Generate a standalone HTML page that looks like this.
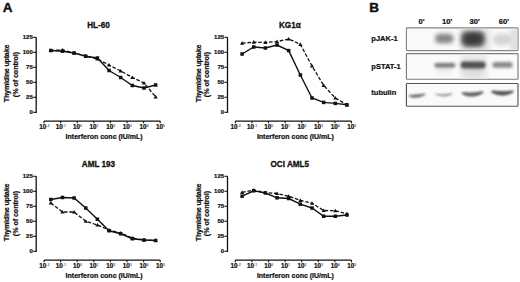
<!DOCTYPE html>
<html><head><meta charset="utf-8"><style>
html,body{margin:0;padding:0;background:#fff;width:520px;height:282px;overflow:hidden}
svg{display:block}
text{font-family:"Liberation Sans",sans-serif;font-weight:bold;fill:#111;stroke:#111;stroke-width:0.22px}
</style></head><body>
<svg width="520" height="282" viewBox="0 0 520 282">
<rect width="520" height="282" fill="#fff"/>
<path d="M36.20 37.30 V112.90" stroke="#111" stroke-width="1.3" fill="none"/>
<path d="M33.20 112.30 H36.20" stroke="#111" stroke-width="1.1"/>
<text x="32.80" y="114.00" font-size="6" text-anchor="end">0</text>
<path d="M33.20 97.30 H36.20" stroke="#111" stroke-width="1.1"/>
<text x="32.80" y="99.00" font-size="6" text-anchor="end">25</text>
<path d="M33.20 82.30 H36.20" stroke="#111" stroke-width="1.1"/>
<text x="32.80" y="84.00" font-size="6" text-anchor="end">50</text>
<path d="M33.20 67.30 H36.20" stroke="#111" stroke-width="1.1"/>
<text x="32.80" y="69.00" font-size="6" text-anchor="end">75</text>
<path d="M33.20 52.30 H36.20" stroke="#111" stroke-width="1.1"/>
<text x="32.80" y="54.00" font-size="6" text-anchor="end">100</text>
<path d="M33.20 37.30 H36.20" stroke="#111" stroke-width="1.1"/>
<text x="32.80" y="39.00" font-size="6" text-anchor="end">125</text>
<path d="M44.00 121.10 H160.20" stroke="#111" stroke-width="1.3" fill="none"/>
<path d="M44.00 121.10 V123.30" stroke="#111" stroke-width="1.1"/>
<text x="44.30" y="129.30" font-size="6.3" text-anchor="middle">10<tspan font-size="3.6" dy="-2.3" style="stroke:none;fill:#666">-2</tspan></text>
<path d="M60.60 121.10 V123.30" stroke="#111" stroke-width="1.1"/>
<text x="60.90" y="129.30" font-size="6.3" text-anchor="middle">10<tspan font-size="3.6" dy="-2.3" style="stroke:none;fill:#666">-1</tspan></text>
<path d="M77.20 121.10 V123.30" stroke="#111" stroke-width="1.1"/>
<text x="77.50" y="129.30" font-size="6.3" text-anchor="middle">10<tspan font-size="3.6" dy="-2.3" style="stroke:none;fill:#666">0</tspan></text>
<path d="M93.80 121.10 V123.30" stroke="#111" stroke-width="1.1"/>
<text x="94.10" y="129.30" font-size="6.3" text-anchor="middle">10<tspan font-size="3.6" dy="-2.3" style="stroke:none;fill:#666">1</tspan></text>
<path d="M110.40 121.10 V123.30" stroke="#111" stroke-width="1.1"/>
<text x="110.70" y="129.30" font-size="6.3" text-anchor="middle">10<tspan font-size="3.6" dy="-2.3" style="stroke:none;fill:#666">2</tspan></text>
<path d="M127.00 121.10 V123.30" stroke="#111" stroke-width="1.1"/>
<text x="127.30" y="129.30" font-size="6.3" text-anchor="middle">10<tspan font-size="3.6" dy="-2.3" style="stroke:none;fill:#666">3</tspan></text>
<path d="M143.60 121.10 V123.30" stroke="#111" stroke-width="1.1"/>
<text x="143.90" y="129.30" font-size="6.3" text-anchor="middle">10<tspan font-size="3.6" dy="-2.3" style="stroke:none;fill:#666">4</tspan></text>
<path d="M160.20 121.10 V123.30" stroke="#111" stroke-width="1.1"/>
<text x="160.50" y="129.30" font-size="6.3" text-anchor="middle">10<tspan font-size="3.6" dy="-2.3" style="stroke:none;fill:#666">5</tspan></text>
<text x="104.10" y="139.20" font-size="7" text-anchor="middle">Interferon conc (IU/mL)</text>
<text transform="translate(9.30,73.40) rotate(-90)" x="0" y="0" font-size="7.2" text-anchor="middle" textLength="57.6" lengthAdjust="spacing">Thymidine uptake</text>
<text transform="translate(17.50,74.50) rotate(-90)" x="0" y="0" font-size="7.2" text-anchor="middle" textLength="45.4" lengthAdjust="spacing">(% of control)</text>
<text x="98.50" y="28.10" font-size="8.15" text-anchor="middle" style="stroke-width:0.3px">HL-60</text>
<path d="M50.80 50.50 L62.45 50.00 L74.10 53.00 L85.75 56.00 L97.40 59.00 L109.05 65.00 L120.70 71.00 L132.35 77.50 L144.00 83.00 L155.65 96.80" stroke="#111" stroke-width="1.3" fill="none" stroke-dasharray="3.6 1.8"/>
<path d="M50.80 50.50 L62.45 51.20 L74.10 53.00 L85.75 56.20 L97.40 58.00 L109.05 70.50 L120.70 77.50 L132.35 85.50 L144.00 88.00 L155.65 85.00" stroke="#111" stroke-width="1.4" fill="none"/>
<path d="M48.70 52.10 L52.90 52.10 L50.80 48.40Z" fill="#111"/>
<path d="M60.35 51.60 L64.55 51.60 L62.45 47.90Z" fill="#111"/>
<path d="M72.00 54.60 L76.20 54.60 L74.10 50.90Z" fill="#111"/>
<path d="M83.65 57.60 L87.85 57.60 L85.75 53.90Z" fill="#111"/>
<path d="M95.30 60.60 L99.50 60.60 L97.40 56.90Z" fill="#111"/>
<path d="M106.95 66.60 L111.15 66.60 L109.05 62.90Z" fill="#111"/>
<path d="M118.60 72.60 L122.80 72.60 L120.70 68.90Z" fill="#111"/>
<path d="M130.25 79.10 L134.45 79.10 L132.35 75.40Z" fill="#111"/>
<path d="M141.90 84.60 L146.10 84.60 L144.00 80.90Z" fill="#111"/>
<path d="M153.55 98.40 L157.75 98.40 L155.65 94.70Z" fill="#111"/>
<rect x="49.05" y="48.75" width="3.5" height="3.5" fill="#111"/>
<rect x="60.70" y="49.45" width="3.5" height="3.5" fill="#111"/>
<rect x="72.35" y="51.25" width="3.5" height="3.5" fill="#111"/>
<rect x="84.00" y="54.45" width="3.5" height="3.5" fill="#111"/>
<rect x="95.65" y="56.25" width="3.5" height="3.5" fill="#111"/>
<rect x="107.30" y="68.75" width="3.5" height="3.5" fill="#111"/>
<rect x="118.95" y="75.75" width="3.5" height="3.5" fill="#111"/>
<rect x="130.60" y="83.75" width="3.5" height="3.5" fill="#111"/>
<rect x="142.25" y="86.25" width="3.5" height="3.5" fill="#111"/>
<rect x="153.90" y="83.25" width="3.5" height="3.5" fill="#111"/>
<path d="M227.50 37.30 V112.90" stroke="#111" stroke-width="1.3" fill="none"/>
<path d="M224.50 112.30 H227.50" stroke="#111" stroke-width="1.1"/>
<text x="224.10" y="114.00" font-size="6" text-anchor="end">0</text>
<path d="M224.50 97.30 H227.50" stroke="#111" stroke-width="1.1"/>
<text x="224.10" y="99.00" font-size="6" text-anchor="end">25</text>
<path d="M224.50 82.30 H227.50" stroke="#111" stroke-width="1.1"/>
<text x="224.10" y="84.00" font-size="6" text-anchor="end">50</text>
<path d="M224.50 67.30 H227.50" stroke="#111" stroke-width="1.1"/>
<text x="224.10" y="69.00" font-size="6" text-anchor="end">75</text>
<path d="M224.50 52.30 H227.50" stroke="#111" stroke-width="1.1"/>
<text x="224.10" y="54.00" font-size="6" text-anchor="end">100</text>
<path d="M224.50 37.30 H227.50" stroke="#111" stroke-width="1.1"/>
<text x="224.10" y="39.00" font-size="6" text-anchor="end">125</text>
<path d="M235.30 121.10 H351.50" stroke="#111" stroke-width="1.3" fill="none"/>
<path d="M235.30 121.10 V123.30" stroke="#111" stroke-width="1.1"/>
<text x="235.60" y="129.30" font-size="6.3" text-anchor="middle">10<tspan font-size="3.6" dy="-2.3" style="stroke:none;fill:#666">-2</tspan></text>
<path d="M251.90 121.10 V123.30" stroke="#111" stroke-width="1.1"/>
<text x="252.20" y="129.30" font-size="6.3" text-anchor="middle">10<tspan font-size="3.6" dy="-2.3" style="stroke:none;fill:#666">-1</tspan></text>
<path d="M268.50 121.10 V123.30" stroke="#111" stroke-width="1.1"/>
<text x="268.80" y="129.30" font-size="6.3" text-anchor="middle">10<tspan font-size="3.6" dy="-2.3" style="stroke:none;fill:#666">0</tspan></text>
<path d="M285.10 121.10 V123.30" stroke="#111" stroke-width="1.1"/>
<text x="285.40" y="129.30" font-size="6.3" text-anchor="middle">10<tspan font-size="3.6" dy="-2.3" style="stroke:none;fill:#666">1</tspan></text>
<path d="M301.70 121.10 V123.30" stroke="#111" stroke-width="1.1"/>
<text x="302.00" y="129.30" font-size="6.3" text-anchor="middle">10<tspan font-size="3.6" dy="-2.3" style="stroke:none;fill:#666">2</tspan></text>
<path d="M318.30 121.10 V123.30" stroke="#111" stroke-width="1.1"/>
<text x="318.60" y="129.30" font-size="6.3" text-anchor="middle">10<tspan font-size="3.6" dy="-2.3" style="stroke:none;fill:#666">3</tspan></text>
<path d="M334.90 121.10 V123.30" stroke="#111" stroke-width="1.1"/>
<text x="335.20" y="129.30" font-size="6.3" text-anchor="middle">10<tspan font-size="3.6" dy="-2.3" style="stroke:none;fill:#666">4</tspan></text>
<path d="M351.50 121.10 V123.30" stroke="#111" stroke-width="1.1"/>
<text x="351.80" y="129.30" font-size="6.3" text-anchor="middle">10<tspan font-size="3.6" dy="-2.3" style="stroke:none;fill:#666">5</tspan></text>
<text x="295.40" y="139.20" font-size="7" text-anchor="middle">Interferon conc (IU/mL)</text>
<text transform="translate(200.60,73.40) rotate(-90)" x="0" y="0" font-size="7.2" text-anchor="middle" textLength="57.6" lengthAdjust="spacing">Thymidine uptake</text>
<text transform="translate(208.80,74.50) rotate(-90)" x="0" y="0" font-size="7.2" text-anchor="middle" textLength="45.4" lengthAdjust="spacing">(% of control)</text>
<text x="289.80" y="28.10" font-size="8.15" text-anchor="middle" style="stroke-width:0.3px">KG1&#945;</text>
<path d="M242.10 43.20 L253.75 42.20 L265.40 42.40 L277.05 41.60 L288.70 39.00 L300.35 44.40 L312.00 66.00 L323.65 85.40 L335.30 98.00 L346.95 104.80" stroke="#111" stroke-width="1.3" fill="none" stroke-dasharray="3.6 1.8"/>
<path d="M242.10 54.00 L253.75 47.00 L265.40 48.00 L277.05 45.00 L288.70 50.60 L300.35 75.00 L312.00 98.00 L323.65 102.40 L335.30 103.40 L346.95 104.80" stroke="#111" stroke-width="1.4" fill="none"/>
<path d="M240.00 44.80 L244.20 44.80 L242.10 41.10Z" fill="#111"/>
<path d="M251.65 43.80 L255.85 43.80 L253.75 40.10Z" fill="#111"/>
<path d="M263.30 44.00 L267.50 44.00 L265.40 40.30Z" fill="#111"/>
<path d="M274.95 43.20 L279.15 43.20 L277.05 39.50Z" fill="#111"/>
<path d="M286.60 40.60 L290.80 40.60 L288.70 36.90Z" fill="#111"/>
<path d="M298.25 46.00 L302.45 46.00 L300.35 42.30Z" fill="#111"/>
<path d="M309.90 67.60 L314.10 67.60 L312.00 63.90Z" fill="#111"/>
<path d="M321.55 87.00 L325.75 87.00 L323.65 83.30Z" fill="#111"/>
<path d="M333.20 99.60 L337.40 99.60 L335.30 95.90Z" fill="#111"/>
<path d="M344.85 106.40 L349.05 106.40 L346.95 102.70Z" fill="#111"/>
<rect x="240.35" y="52.25" width="3.5" height="3.5" fill="#111"/>
<rect x="252.00" y="45.25" width="3.5" height="3.5" fill="#111"/>
<rect x="263.65" y="46.25" width="3.5" height="3.5" fill="#111"/>
<rect x="275.30" y="43.25" width="3.5" height="3.5" fill="#111"/>
<rect x="286.95" y="48.85" width="3.5" height="3.5" fill="#111"/>
<rect x="298.60" y="73.25" width="3.5" height="3.5" fill="#111"/>
<rect x="310.25" y="96.25" width="3.5" height="3.5" fill="#111"/>
<rect x="321.90" y="100.65" width="3.5" height="3.5" fill="#111"/>
<rect x="333.55" y="101.65" width="3.5" height="3.5" fill="#111"/>
<rect x="345.20" y="103.05" width="3.5" height="3.5" fill="#111"/>
<path d="M36.20 176.30 V251.90" stroke="#111" stroke-width="1.3" fill="none"/>
<path d="M33.20 251.30 H36.20" stroke="#111" stroke-width="1.1"/>
<text x="32.80" y="253.00" font-size="6" text-anchor="end">0</text>
<path d="M33.20 236.30 H36.20" stroke="#111" stroke-width="1.1"/>
<text x="32.80" y="238.00" font-size="6" text-anchor="end">25</text>
<path d="M33.20 221.30 H36.20" stroke="#111" stroke-width="1.1"/>
<text x="32.80" y="223.00" font-size="6" text-anchor="end">50</text>
<path d="M33.20 206.30 H36.20" stroke="#111" stroke-width="1.1"/>
<text x="32.80" y="208.00" font-size="6" text-anchor="end">75</text>
<path d="M33.20 191.30 H36.20" stroke="#111" stroke-width="1.1"/>
<text x="32.80" y="193.00" font-size="6" text-anchor="end">100</text>
<path d="M33.20 176.30 H36.20" stroke="#111" stroke-width="1.1"/>
<text x="32.80" y="178.00" font-size="6" text-anchor="end">125</text>
<path d="M44.00 260.10 H160.20" stroke="#111" stroke-width="1.3" fill="none"/>
<path d="M44.00 260.10 V262.30" stroke="#111" stroke-width="1.1"/>
<text x="44.30" y="268.30" font-size="6.3" text-anchor="middle">10<tspan font-size="3.6" dy="-2.3" style="stroke:none;fill:#666">-2</tspan></text>
<path d="M60.60 260.10 V262.30" stroke="#111" stroke-width="1.1"/>
<text x="60.90" y="268.30" font-size="6.3" text-anchor="middle">10<tspan font-size="3.6" dy="-2.3" style="stroke:none;fill:#666">-1</tspan></text>
<path d="M77.20 260.10 V262.30" stroke="#111" stroke-width="1.1"/>
<text x="77.50" y="268.30" font-size="6.3" text-anchor="middle">10<tspan font-size="3.6" dy="-2.3" style="stroke:none;fill:#666">0</tspan></text>
<path d="M93.80 260.10 V262.30" stroke="#111" stroke-width="1.1"/>
<text x="94.10" y="268.30" font-size="6.3" text-anchor="middle">10<tspan font-size="3.6" dy="-2.3" style="stroke:none;fill:#666">1</tspan></text>
<path d="M110.40 260.10 V262.30" stroke="#111" stroke-width="1.1"/>
<text x="110.70" y="268.30" font-size="6.3" text-anchor="middle">10<tspan font-size="3.6" dy="-2.3" style="stroke:none;fill:#666">2</tspan></text>
<path d="M127.00 260.10 V262.30" stroke="#111" stroke-width="1.1"/>
<text x="127.30" y="268.30" font-size="6.3" text-anchor="middle">10<tspan font-size="3.6" dy="-2.3" style="stroke:none;fill:#666">3</tspan></text>
<path d="M143.60 260.10 V262.30" stroke="#111" stroke-width="1.1"/>
<text x="143.90" y="268.30" font-size="6.3" text-anchor="middle">10<tspan font-size="3.6" dy="-2.3" style="stroke:none;fill:#666">4</tspan></text>
<path d="M160.20 260.10 V262.30" stroke="#111" stroke-width="1.1"/>
<text x="160.50" y="268.30" font-size="6.3" text-anchor="middle">10<tspan font-size="3.6" dy="-2.3" style="stroke:none;fill:#666">5</tspan></text>
<text x="104.10" y="278.20" font-size="7" text-anchor="middle">Interferon conc (IU/mL)</text>
<text transform="translate(9.30,212.40) rotate(-90)" x="0" y="0" font-size="7.2" text-anchor="middle" textLength="57.6" lengthAdjust="spacing">Thymidine uptake</text>
<text transform="translate(17.50,213.50) rotate(-90)" x="0" y="0" font-size="7.2" text-anchor="middle" textLength="45.4" lengthAdjust="spacing">(% of control)</text>
<text x="98.50" y="167.10" font-size="8.15" text-anchor="middle" style="stroke-width:0.3px">AML 193</text>
<path d="M50.80 203.00 L62.45 212.00 L74.10 212.00 L85.75 221.25 L97.40 225.00 L109.05 230.00 L120.70 233.00 L132.35 238.00 L144.00 240.00 L155.65 240.50" stroke="#111" stroke-width="1.3" fill="none" stroke-dasharray="3.6 1.8"/>
<path d="M50.80 199.50 L62.45 197.50 L74.10 198.00 L85.75 208.00 L97.40 219.25 L109.05 230.75 L120.70 233.75 L132.35 238.75 L144.00 240.00 L155.65 240.50" stroke="#111" stroke-width="1.4" fill="none"/>
<path d="M48.70 204.60 L52.90 204.60 L50.80 200.90Z" fill="#111"/>
<path d="M60.35 213.60 L64.55 213.60 L62.45 209.90Z" fill="#111"/>
<path d="M72.00 213.60 L76.20 213.60 L74.10 209.90Z" fill="#111"/>
<path d="M83.65 222.85 L87.85 222.85 L85.75 219.15Z" fill="#111"/>
<path d="M95.30 226.60 L99.50 226.60 L97.40 222.90Z" fill="#111"/>
<path d="M106.95 231.60 L111.15 231.60 L109.05 227.90Z" fill="#111"/>
<path d="M118.60 234.60 L122.80 234.60 L120.70 230.90Z" fill="#111"/>
<path d="M130.25 239.60 L134.45 239.60 L132.35 235.90Z" fill="#111"/>
<path d="M141.90 241.60 L146.10 241.60 L144.00 237.90Z" fill="#111"/>
<path d="M153.55 242.10 L157.75 242.10 L155.65 238.40Z" fill="#111"/>
<rect x="49.05" y="197.75" width="3.5" height="3.5" fill="#111"/>
<rect x="60.70" y="195.75" width="3.5" height="3.5" fill="#111"/>
<rect x="72.35" y="196.25" width="3.5" height="3.5" fill="#111"/>
<rect x="84.00" y="206.25" width="3.5" height="3.5" fill="#111"/>
<rect x="95.65" y="217.50" width="3.5" height="3.5" fill="#111"/>
<rect x="107.30" y="229.00" width="3.5" height="3.5" fill="#111"/>
<rect x="118.95" y="232.00" width="3.5" height="3.5" fill="#111"/>
<rect x="130.60" y="237.00" width="3.5" height="3.5" fill="#111"/>
<rect x="142.25" y="238.25" width="3.5" height="3.5" fill="#111"/>
<rect x="153.90" y="238.75" width="3.5" height="3.5" fill="#111"/>
<path d="M227.50 176.30 V251.90" stroke="#111" stroke-width="1.3" fill="none"/>
<path d="M224.50 251.30 H227.50" stroke="#111" stroke-width="1.1"/>
<text x="224.10" y="253.00" font-size="6" text-anchor="end">0</text>
<path d="M224.50 236.30 H227.50" stroke="#111" stroke-width="1.1"/>
<text x="224.10" y="238.00" font-size="6" text-anchor="end">25</text>
<path d="M224.50 221.30 H227.50" stroke="#111" stroke-width="1.1"/>
<text x="224.10" y="223.00" font-size="6" text-anchor="end">50</text>
<path d="M224.50 206.30 H227.50" stroke="#111" stroke-width="1.1"/>
<text x="224.10" y="208.00" font-size="6" text-anchor="end">75</text>
<path d="M224.50 191.30 H227.50" stroke="#111" stroke-width="1.1"/>
<text x="224.10" y="193.00" font-size="6" text-anchor="end">100</text>
<path d="M224.50 176.30 H227.50" stroke="#111" stroke-width="1.1"/>
<text x="224.10" y="178.00" font-size="6" text-anchor="end">125</text>
<path d="M235.30 260.10 H351.50" stroke="#111" stroke-width="1.3" fill="none"/>
<path d="M235.30 260.10 V262.30" stroke="#111" stroke-width="1.1"/>
<text x="235.60" y="268.30" font-size="6.3" text-anchor="middle">10<tspan font-size="3.6" dy="-2.3" style="stroke:none;fill:#666">-2</tspan></text>
<path d="M251.90 260.10 V262.30" stroke="#111" stroke-width="1.1"/>
<text x="252.20" y="268.30" font-size="6.3" text-anchor="middle">10<tspan font-size="3.6" dy="-2.3" style="stroke:none;fill:#666">-1</tspan></text>
<path d="M268.50 260.10 V262.30" stroke="#111" stroke-width="1.1"/>
<text x="268.80" y="268.30" font-size="6.3" text-anchor="middle">10<tspan font-size="3.6" dy="-2.3" style="stroke:none;fill:#666">0</tspan></text>
<path d="M285.10 260.10 V262.30" stroke="#111" stroke-width="1.1"/>
<text x="285.40" y="268.30" font-size="6.3" text-anchor="middle">10<tspan font-size="3.6" dy="-2.3" style="stroke:none;fill:#666">1</tspan></text>
<path d="M301.70 260.10 V262.30" stroke="#111" stroke-width="1.1"/>
<text x="302.00" y="268.30" font-size="6.3" text-anchor="middle">10<tspan font-size="3.6" dy="-2.3" style="stroke:none;fill:#666">2</tspan></text>
<path d="M318.30 260.10 V262.30" stroke="#111" stroke-width="1.1"/>
<text x="318.60" y="268.30" font-size="6.3" text-anchor="middle">10<tspan font-size="3.6" dy="-2.3" style="stroke:none;fill:#666">3</tspan></text>
<path d="M334.90 260.10 V262.30" stroke="#111" stroke-width="1.1"/>
<text x="335.20" y="268.30" font-size="6.3" text-anchor="middle">10<tspan font-size="3.6" dy="-2.3" style="stroke:none;fill:#666">4</tspan></text>
<path d="M351.50 260.10 V262.30" stroke="#111" stroke-width="1.1"/>
<text x="351.80" y="268.30" font-size="6.3" text-anchor="middle">10<tspan font-size="3.6" dy="-2.3" style="stroke:none;fill:#666">5</tspan></text>
<text x="295.40" y="278.20" font-size="7" text-anchor="middle">Interferon conc (IU/mL)</text>
<text transform="translate(200.60,212.40) rotate(-90)" x="0" y="0" font-size="7.2" text-anchor="middle" textLength="57.6" lengthAdjust="spacing">Thymidine uptake</text>
<text transform="translate(208.80,213.50) rotate(-90)" x="0" y="0" font-size="7.2" text-anchor="middle" textLength="45.4" lengthAdjust="spacing">(% of control)</text>
<text x="289.80" y="167.10" font-size="8.15" text-anchor="middle" style="stroke-width:0.3px">OCI AML5</text>
<path d="M242.10 192.30 L253.75 190.20 L265.40 192.50 L277.05 193.50 L288.70 196.25 L300.35 200.30 L312.00 203.25 L323.65 210.50 L335.30 210.75 L346.95 213.75" stroke="#111" stroke-width="1.3" fill="none" stroke-dasharray="3.6 1.8"/>
<path d="M242.10 196.20 L253.75 190.80 L265.40 193.00 L277.05 197.80 L288.70 198.50 L300.35 204.20 L312.00 208.00 L323.65 216.25 L335.30 216.25 L346.95 215.00" stroke="#111" stroke-width="1.4" fill="none"/>
<path d="M240.00 193.90 L244.20 193.90 L242.10 190.20Z" fill="#111"/>
<path d="M251.65 191.80 L255.85 191.80 L253.75 188.10Z" fill="#111"/>
<path d="M263.30 194.10 L267.50 194.10 L265.40 190.40Z" fill="#111"/>
<path d="M274.95 195.10 L279.15 195.10 L277.05 191.40Z" fill="#111"/>
<path d="M286.60 197.85 L290.80 197.85 L288.70 194.15Z" fill="#111"/>
<path d="M298.25 201.90 L302.45 201.90 L300.35 198.20Z" fill="#111"/>
<path d="M309.90 204.85 L314.10 204.85 L312.00 201.15Z" fill="#111"/>
<path d="M321.55 212.10 L325.75 212.10 L323.65 208.40Z" fill="#111"/>
<path d="M333.20 212.35 L337.40 212.35 L335.30 208.65Z" fill="#111"/>
<path d="M344.85 215.35 L349.05 215.35 L346.95 211.65Z" fill="#111"/>
<rect x="240.35" y="194.45" width="3.5" height="3.5" fill="#111"/>
<rect x="252.00" y="189.05" width="3.5" height="3.5" fill="#111"/>
<rect x="263.65" y="191.25" width="3.5" height="3.5" fill="#111"/>
<rect x="275.30" y="196.05" width="3.5" height="3.5" fill="#111"/>
<rect x="286.95" y="196.75" width="3.5" height="3.5" fill="#111"/>
<rect x="298.60" y="202.45" width="3.5" height="3.5" fill="#111"/>
<rect x="310.25" y="206.25" width="3.5" height="3.5" fill="#111"/>
<rect x="321.90" y="214.50" width="3.5" height="3.5" fill="#111"/>
<rect x="333.55" y="214.50" width="3.5" height="3.5" fill="#111"/>
<rect x="345.20" y="213.25" width="3.5" height="3.5" fill="#111"/>
<text x="2.80" y="11.60" font-size="13.5" text-anchor="start" style="stroke-width:0.4px">A</text>
<text x="369.20" y="11.60" font-size="13.5" text-anchor="start" style="stroke-width:0.4px">B</text>
<defs><filter id="b1" x="-50%" y="-50%" width="200%" height="200%"><feGaussianBlur stdDeviation="1.6"/></filter><filter id="b2" x="-50%" y="-50%" width="200%" height="200%"><feGaussianBlur stdDeviation="0.9"/></filter><filter id="b3" x="-50%" y="-50%" width="200%" height="200%"><feGaussianBlur stdDeviation="2.5"/></filter><filter id="b4" x="-50%" y="-50%" width="200%" height="200%"><feGaussianBlur stdDeviation="2.0"/></filter><filter id="b5" x="-50%" y="-50%" width="200%" height="200%"><feGaussianBlur stdDeviation="1.35"/></filter><clipPath id="c1"><rect x="406.8" y="28.6" width="110.5" height="21.6"/></clipPath><clipPath id="c2"><rect x="406.8" y="54.2" width="110.5" height="24.6"/></clipPath><clipPath id="c3"><rect x="406.8" y="84" width="110.5" height="22"/></clipPath></defs>
<text x="421.6" y="24.0" font-size="7.6" text-anchor="middle">0'</text>
<text x="447.2" y="24.0" font-size="7.6" text-anchor="middle">10'</text>
<text x="474.6" y="24.0" font-size="7.6" text-anchor="middle">30'</text>
<text x="503.9" y="24.0" font-size="7.6" text-anchor="middle">60'</text>
<text x="371.3" y="41.0" font-size="7.5">pJAK-1</text>
<text x="371.3" y="68.5" font-size="7.5">pSTAT-1</text>
<text x="371.3" y="95.1" font-size="7.5">tubulin</text>
<rect x="406.4" y="27.90" width="111.6" height="22.80" fill="#fafafa" stroke="#848484" stroke-width="1.15" rx="0.8"/>
<rect x="406.4" y="53.60" width="111.6" height="25.60" fill="#fafafa" stroke="#7c7c7c" stroke-width="1.15" rx="0.8"/>
<rect x="406.4" y="83.50" width="111.6" height="22.70" fill="#fafafa" stroke="#555" stroke-width="1.15" rx="0.8"/>
<g clip-path="url(#c1)">
<rect x="460" y="28" width="30" height="24" fill="#e2e2e2" filter="url(#b3)"/>
<rect x="510" y="28" width="10" height="24" fill="#e0e0e0" filter="url(#b3)"/>
<rect x="435" y="33.7" width="18.6" height="9.6" rx="4.5" fill="#858585" filter="url(#b4)"/>
<rect x="461" y="31" width="24" height="16" rx="6" fill="#5c5c5c" filter="url(#b4)"/>
<ellipse cx="473" cy="39" rx="8.5" ry="5" fill="#383838" filter="url(#b4)"/>
<ellipse cx="502.5" cy="39.5" rx="10" ry="6" fill="#d4d4d4" filter="url(#b4)"/>
</g>
<g clip-path="url(#c2)">
<rect x="461" y="54" width="26" height="26" fill="#e8e8e8" filter="url(#b3)"/>
<ellipse cx="473" cy="71" rx="11" ry="5" fill="#dcdcdc" filter="url(#b3)"/>
<ellipse cx="444.5" cy="70" rx="9" ry="4" fill="#eaeaea" filter="url(#b3)"/>
<rect x="434.4" y="62.9" width="21" height="4.6" rx="2.3" fill="#777" filter="url(#b5)"/>
<rect x="460.6" y="61.5" width="25" height="7" rx="3.2" fill="#505050" filter="url(#b5)"/>
<rect x="492.4" y="62.1" width="20.2" height="5.6" rx="2.8" fill="#888" filter="url(#b5)"/>
</g>
<g clip-path="url(#c3)">
<path d="M409.2 95.0 Q417.00 94.20 424.8 93.4 Q426.1 94.30 424.8 95.20 Q417.00 99.60 409.2 96.80 Q407.9 95.90 409.2 95.0 Z" fill="#747474" filter="url(#b2)"/>
<path d="M436.0 93.4 Q443.90 95.15 451.8 93.1 Q453.1 93.80 451.8 94.50 Q443.90 98.55 436.0 94.80 Q434.7 94.10 436.0 93.4 Z" fill="#959595" filter="url(#b2)"/>
<path d="M462.5 92.0 Q472.65 93.30 482.8 91.0 Q484.1 92.20 482.8 93.40 Q472.65 99.70 462.5 94.40 Q461.2 93.20 462.5 92.0 Z" fill="#666" filter="url(#b2)"/>
<path d="M492.0 90.6 Q502.50 91.30 513.0 90.4 Q514.3 91.60 513.0 92.80 Q502.50 98.70 492.0 93.00 Q490.7 91.80 492.0 90.6 Z" fill="#5a5a5a" filter="url(#b2)"/>
</g>
</svg>
</body></html>
